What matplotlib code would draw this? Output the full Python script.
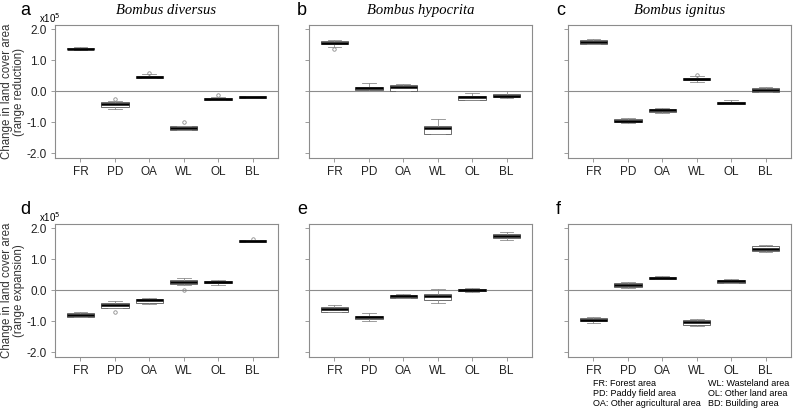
import numpy as np
import matplotlib.pyplot as plt

plt.rcParams['font.family'] = ['Liberation Sans', 'DejaVu Sans']

cats = ['FR', 'PD', 'OA', 'WL', 'OL', 'BL']
letters = ['a', 'b', 'c', 'd', 'e', 'f']
species = ['Bombus diversus', 'Bombus hypocrita', 'Bombus ignitus']
row_labels = ['(range reduction)', '(range expansion)']

# values in units of 1e5, rows = panels a..f, columns = FR, PD, OA, WL, OL, BL
medians = [
    [1.38, -0.43, 0.46, -1.18, -0.25, -0.19],
    [1.56, 0.11, 0.12, -1.18, -0.20, -0.14],
    [1.59, -0.96, -0.61, 0.40, -0.39, 0.05],
    [-0.81, -0.48, -0.31, 0.27, 0.28, 1.59],
    [-0.61, -0.88, -0.19, -0.18, 0.01, 1.75],
    [-0.95, 0.16, 0.40, -1.04, 0.29, 1.34],
]
q1 = [
    [1.35, -0.51, 0.43, -1.24, -0.27, -0.21],
    [1.52, 0.04, 0.02, -1.39, -0.27, -0.20],
    [1.54, -1.00, -0.67, 0.36, -0.42, -0.03],
    [-0.86, -0.57, -0.40, 0.19, 0.24, 1.57],
    [-0.70, -0.92, -0.25, -0.31, -0.04, 1.69],
    [-1.01, 0.09, 0.37, -1.12, 0.24, 1.27],
]
q3 = [
    [1.41, -0.36, 0.50, -1.13, -0.22, -0.17],
    [1.61, 0.15, 0.20, -1.13, -0.16, -0.10],
    [1.67, -0.91, -0.56, 0.44, -0.35, 0.11],
    [-0.74, -0.43, -0.27, 0.33, 0.31, 1.61],
    [-0.54, -0.84, -0.14, -0.11, 0.03, 1.82],
    [-0.89, 0.23, 0.43, -0.97, 0.33, 1.42],
]
whis_lo = [
    [1.33, -0.58, 0.42, -1.26, -0.29, -0.22],
    [1.43, 0.01, 0.00, -1.39, -0.29, -0.22],
    [1.53, -1.03, -0.69, 0.29, -0.43, -0.04],
    [-0.88, -0.59, -0.46, 0.18, 0.18, 1.56],
    [-0.71, -0.98, -0.26, -0.43, -0.07, 1.61],
    [-1.06, 0.07, 0.36, -1.15, 0.23, 1.24],
]
whis_hi = [
    [1.43, -0.32, 0.55, -1.11, -0.20, -0.16],
    [1.67, 0.28, 0.24, -0.91, -0.05, 0.00],
    [1.68, -0.87, -0.53, 0.48, -0.29, 0.12],
    [-0.69, -0.34, -0.25, 0.38, 0.33, 1.62],
    [-0.47, -0.73, -0.12, 0.05, 0.08, 1.88],
    [-0.86, 0.25, 0.45, -0.93, 0.35, 1.45],
]
outliers = [
    [[], [-0.26], [0.59], [-1.01], [-0.13], []],
    [[1.37], [], [], [], [], []],
    [[], [], [], [0.53], [], []],
    [[], [-0.71], [], [0.01], [], [1.66]],
    [[], [], [], [], [], []],
    [[], [], [], [], [], []],
]

fig = plt.figure(figsize=(7.93, 4.09), dpi=100)
W, H = 793, 409
lefts = [55, 309, 568]
width = 223
tops = [25, 224]
height = 133

grey = '#8c8c8c'
for i in range(6):
    r, c = divmod(i, 3)
    ax = fig.add_axes([lefts[c] / W, 1 - (tops[r] + height) / H, width / W, height / H])
    stats = []
    for j in range(6):
        stats.append(dict(med=medians[i][j], q1=q1[i][j], q3=q3[i][j],
                          whislo=whis_lo[i][j], whishi=whis_hi[i][j],
                          fliers=outliers[i][j]))
    ax.axhline(0, color=grey, lw=0.8, zorder=0)
    ax.bxp(stats, positions=range(1, 7), widths=0.8, patch_artist=True,
           boxprops=dict(facecolor='white', edgecolor='#555555', lw=0.6),
           medianprops=dict(color='black', lw=1.8, solid_capstyle='butt'),
           whiskerprops=dict(color=grey, lw=0.6),
           capprops=dict(color=grey, lw=0.6),
           flierprops=dict(marker='o', markersize=2.5, markerfacecolor='none',
                           markeredgecolor=grey, markeredgewidth=0.6))
    ax.set_xlim(0.26, 6.74)
    ax.set_ylim(-2.16, 2.14)
    ax.set_xticks(range(1, 7))
    ax.set_xticklabels(cats, fontsize=8.5)
    ax.set_yticks([-2, -1, 0, 1, 2])
    for s in ax.spines.values():
        s.set_color(grey)
        s.set_linewidth(0.8)
    ax.tick_params(colors=grey, length=3, width=0.6, labelcolor='#222222', pad=3)
    if c == 0:
        ax.set_yticklabels(['-2.0', '-1.0', '0.0', '1.0', '2.0'], fontsize=8.5)
        fig.text(13 / W, 1 - (tops[r] + height / 2) / H,
                 'Change in land cover area\n' + row_labels[r], fontsize=8.3,
                 linespacing=1.05, rotation=90, ha='center', va='center',
                 color='#333333')
        ax.text(-0.072, 1.053, 'x10$^5$', transform=ax.transAxes, fontsize=7,
                ha='left', va='center')
        lx = -35 / width
    else:
        ax.set_yticklabels([])
        lx = -12 / width
    if r == 0:
        ax.set_title(species[c], fontsize=10.5, family='Liberation Serif',
                     style='italic', pad=8)
    ax.text(lx, 1.11, letters[i], transform=ax.transAxes, fontsize=13,
            ha='left', va='center')

legend_left = ['FR: Forest area', 'PD: Paddy field area', 'OA: Other agricultural area']
legend_right = ['WL: Wasteland area', 'OL: Other land area', 'BD: Building area']
for k in range(3):
    y = 1 - (383 + 10 * k) / H
    fig.text(593 / W, y, legend_left[k], fontsize=6.5, va='center', ha='left')
    fig.text(708 / W, y, legend_right[k], fontsize=6.5, va='center', ha='left')

fig.savefig('out.png', dpi=100)
